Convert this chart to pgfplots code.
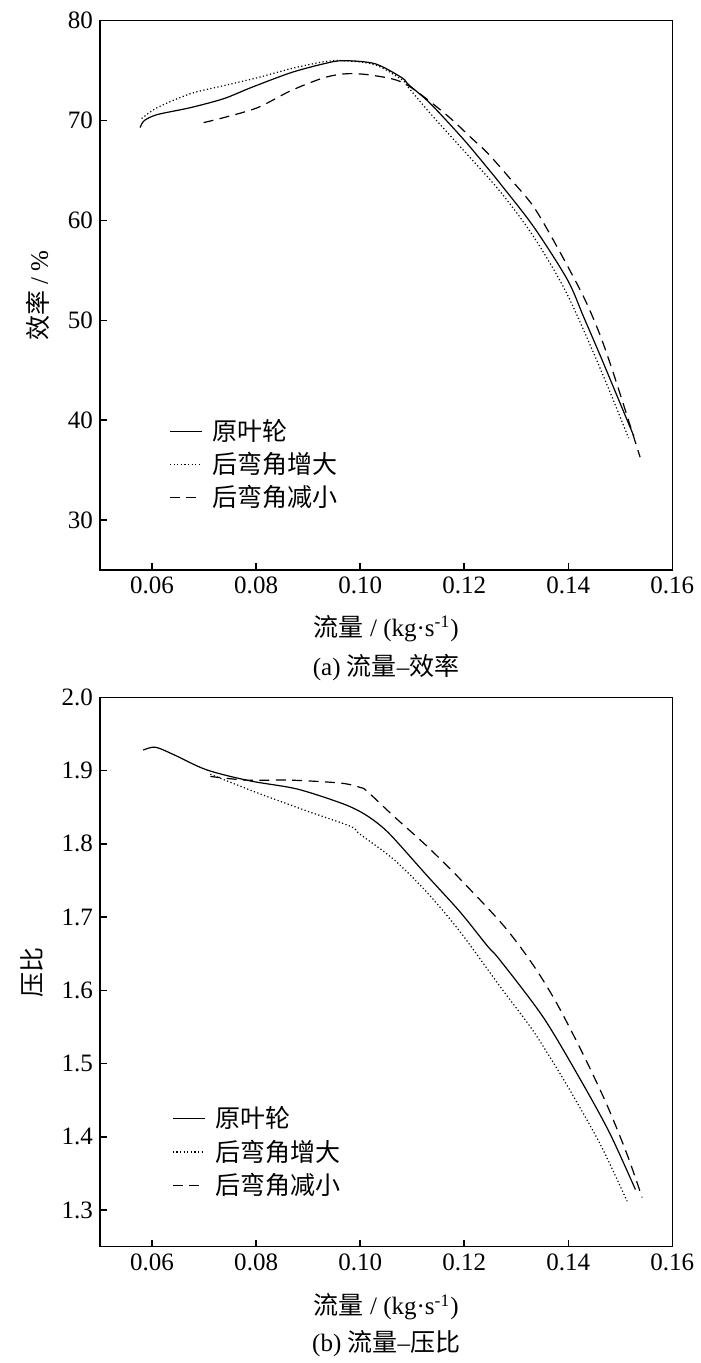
\documentclass[border=0pt]{standalone}
\usepackage{fontspec}
\setmainfont{Liberation Serif}
\newfontfamily\cjk{Noto Sans CJK SC}
\usepackage{pgfplots}
\pgfplotsset{compat=1.18}
\pgfplotsset{
  myaxis/.style={
    scale only axis,
    clip mode=individual,
    width=286pt, height=274.5pt,
    xmin=0.05, xmax=0.16,
    xtick={0.06,0.08,0.10,0.12,0.14,0.16},
    xticklabel style={/pgf/number format/fixed,/pgf/number format/precision=2,/pgf/number format/fixed zerofill},
    tick align=inside, tick pos=left,
    major tick length=3.5pt,
    axis line style={line width=0.75pt},
    every tick/.style={line width=0.75pt, black},
    /pgf/number format/assume math mode=true,
    tick label style={font=\fontsize{12.5}{15}\selectfont},
    label style={font=\fontsize{12.5}{15}\selectfont},
    xlabel={{\cjk 流量} / (kg·s\textsuperscript{-1})},
    xlabel style={at={(axis description cs:0.5,-0.106)},anchor=center},
    legend cell align=left,
    legend style={draw=none, fill=none, font=\fontsize{12.5}{15}\selectfont, row sep=0.5pt,
      /tikz/every odd column/.append style={column sep=3pt}},
    legend image code/.code={\draw[#1] (0pt,0pt) -- (16pt,0pt);},
  },
  s1/.style={black, line width=0.6pt, smooth, tension=0.5},
  s2/.style={black, line width=0.6pt, dash pattern=on 0.6pt off 1.2pt, smooth, tension=0.5},
  s3/.style={black, line width=0.6pt, dash pattern=on 5pt off 3.2pt, smooth, tension=0.5},
}
\begin{document}
\begin{tikzpicture}
\useasboundingbox (-50pt,-396.3pt) rectangle (300pt,284.85pt);
\begin{axis}[myaxis,
  at={(0,0)}, anchor=south west,
  ymin=25, ymax=80, ytick={30,40,50,60,70,80},
  ylabel={{\cjk 效率} / \%},
  ylabel style={at={(axis description cs:-0.108,0.5)},anchor=center,rotate=0},
  legend style={at={(axis description cs:0.11,0.29)},anchor=north west},
]
\addplot[s1] coordinates {(0.0577,69.3) (0.0585,70.0) (0.061,70.6) (0.0674,71.3) (0.0738,72.2) (0.079,73.3) (0.0867,74.8) (0.0931,75.7) (0.0967,76.0) (0.1028,75.7) (0.108,74.3) (0.1093,73.6) (0.1135,71.7) (0.1199,68.1) (0.1244,65.3) (0.1269,63.7) (0.1333,59.4) (0.1398,54.1) (0.1429,50.4) (0.1462,46.4) (0.1494,42.4) (0.1526,38.4)};
\addlegendentry{{\cjk 原叶轮}}
\addplot[s2] coordinates {(0.0580,70.2) (0.061,71.3) (0.0674,72.7) (0.0738,73.5) (0.0803,74.3) (0.0867,75.2) (0.0931,75.9) (0.0967,76.0) (0.1028,75.6) (0.108,74.1) (0.1093,73.3) (0.1135,70.7) (0.1199,67.0) (0.1269,62.9) (0.1333,58.4) (0.1397,52.7) (0.1462,45.1) (0.1516,38.2)};
\addlegendentry{{\cjk 后弯角增大}}
\addplot[s3] coordinates {(0.0699,69.8) (0.0738,70.3) (0.0803,71.3) (0.0867,73.0) (0.0931,74.3) (0.0977,74.7) (0.1028,74.5) (0.1086,73.7) (0.1163,70.7) (0.1215,68.2) (0.1244,66.8) (0.1288,64.2) (0.1333,61.4) (0.1378,57.4) (0.1429,52.4) (0.1462,48.4) (0.1493,43.7) (0.1538,36.3)};
\addlegendentry{{\cjk 后弯角减小}}
\node[font=\fontsize{12.5}{15}\selectfont] at (rel axis cs:0.5,-0.177) {(a) {\cjk 流量}–{\cjk 效率}};
\end{axis}
\begin{axis}[myaxis,
  at={(0,-338.15pt)}, anchor=south west,
  ymin=1.25, ymax=2.0, ytick={1.3,1.4,1.5,1.6,1.7,1.8,1.9,2.0},
  yticklabel style={/pgf/number format/fixed,/pgf/number format/precision=1,/pgf/number format/fixed zerofill},
  ylabel={{\cjk 压比}},
  ylabel style={at={(axis description cs:-0.118,0.5)},anchor=center,rotate=0},
  xlabel style={at={(axis description cs:0.5,-0.110)},anchor=center},
  legend style={at={(axis description cs:0.115,0.27)},anchor=north west},
]
\addplot[s1] coordinates {(0.0583,1.928) (0.0606,1.932) (0.0641,1.922) (0.0705,1.901) (0.0788,1.886) (0.0878,1.875) (0.0962,1.856) (0.1000,1.844) (0.1030,1.830) (0.1060,1.811) (0.1128,1.757) (0.1192,1.707) (0.1244,1.661) (0.1269,1.641) (0.1353,1.562) (0.1429,1.471) (0.1481,1.403) (0.1529,1.328)};
\addlegendentry{{\cjk 原叶轮}}
\addplot[s2] coordinates {(0.0712,1.895) (0.0801,1.870) (0.0897,1.845) (0.0981,1.824) (0.1000,1.813) (0.1064,1.779) (0.1128,1.734) (0.1192,1.680) (0.1269,1.605) (0.1333,1.544) (0.1397,1.471) (0.1462,1.389) (0.1513,1.312)};
\addlegendentry{{\cjk 后弯角增大}}
\addplot[s3] coordinates {(0.0712,1.892) (0.0782,1.887) (0.0865,1.887) (0.0962,1.883) (0.1000,1.877) (0.1013,1.872) (0.1064,1.838) (0.1128,1.797) (0.1192,1.752) (0.1276,1.688) (0.1333,1.634) (0.1378,1.582) (0.1429,1.512) (0.1474,1.444) (0.1513,1.376) (0.1542,1.317)};
\addlegendentry{{\cjk 后弯角减小}}
\node[font=\fontsize{12.5}{15}\selectfont] at (rel axis cs:0.5,-0.177) {(b) {\cjk 流量}–{\cjk 压比}};
\end{axis}
\end{tikzpicture}
\end{document}
